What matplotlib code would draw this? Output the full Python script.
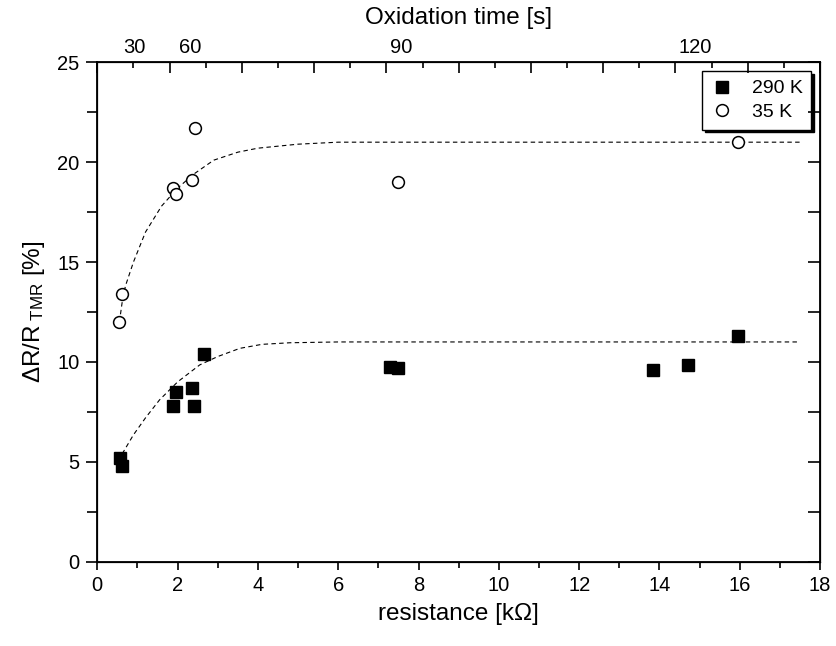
import matplotlib
matplotlib.use('Agg')
import matplotlib.pyplot as plt
from matplotlib.ticker import MultipleLocator, NullFormatter

plt.rcParams['font.family'] = ['Liberation Sans', 'DejaVu Sans']
plt.rcParams['mathtext.fontset'] = 'custom'
plt.rcParams['mathtext.rm'] = 'Liberation Sans'
plt.rcParams['mathtext.it'] = 'Liberation Sans:italic'

# 290 K data (resistance in kOhm, TMR in %)
r_290 = [0.57, 0.62, 1.89, 1.97, 2.37, 2.42, 2.65, 7.30, 7.48, 13.85, 14.70, 15.95]
tmr_290 = [5.2, 4.8, 7.8, 8.5, 8.7, 7.8, 10.4, 9.75, 9.7, 9.6, 9.85, 11.3]

# 35 K data
r_35 = [0.55, 0.62, 1.89, 1.96, 2.37, 2.43, 7.50, 15.95]
tmr_35 = [12.0, 13.4, 18.7, 18.4, 19.1, 21.7, 19.0, 21.0]

# guide-to-the-eye curves
fit35_x = [0.55, 0.62, 0.70, 0.90, 1.20, 1.60, 2.00, 2.40, 2.90, 3.50, 4.00, 5.00, 6.00, 8.00, 17.5]
fit35_y = [12.0, 13.0, 13.8, 15.0, 16.5, 17.8, 18.7, 19.4, 20.1, 20.5, 20.7, 20.9, 21.0, 21.0, 21.0]
fit290_x = [0.62, 0.90, 1.20, 1.55, 2.00, 2.55, 3.00, 3.55, 4.10, 4.80, 6.00, 17.5]
fit290_y = [5.4, 6.35, 7.2, 8.1, 9.0, 9.85, 10.27, 10.68, 10.88, 10.96, 11.0, 11.0]

# top axis labels (oxidation time) and where they sit on the resistance scale
ox_labels = ['30', '60', '90', '120']
ox_pos = [0.92, 2.31, 7.58, 14.89]

fig = plt.figure(figsize=(8.36, 6.46), dpi=100)
ax = fig.add_axes([0.1164, 0.1305, 0.8645, 0.7731])

ax.plot(fit35_x, fit35_y, color='black', ls=(0, (4, 3)), lw=0.8)
ax.plot(fit290_x, fit290_y, color='black', ls=(0, (4, 3)), lw=0.8)
ax.plot(r_290, tmr_290, 's', color='black', ms=8, label='290 K', zorder=3)
ax.plot(r_35, tmr_35, 'o', mfc='white', mec='black', mew=1.1, ms=8.5, label='35 K', zorder=3)

ax.set_xlim(0, 18)
ax.set_ylim(0, 25)
ax.xaxis.set_major_locator(MultipleLocator(2))
ax.xaxis.set_minor_locator(MultipleLocator(1))
ax.yaxis.set_major_locator(MultipleLocator(5))
ax.yaxis.set_minor_locator(MultipleLocator(2.5))

for s in ax.spines.values():
    s.set_linewidth(1.3)

ax.tick_params(axis='x', which='both', direction='out', labelsize=14.5, width=1.2, pad=4)
ax.tick_params(axis='x', which='major', length=6)
ax.tick_params(axis='x', which='minor', length=4)
ax.tick_params(axis='y', which='both', direction='out', labelsize=14.5, width=1.2, pad=5)
ax.tick_params(axis='y', which='major', length=8)
ax.tick_params(axis='y', which='minor', length=7)

ax.set_xlabel('resistance [k\u03a9]', fontsize=17.5, labelpad=6)
ax.set_ylabel('\u0394R/R$_{\\ \\mathrm{TMR}}$ [%]', fontsize=17.5, labelpad=7)

# right axis: inward ticks, no labels
ax_r = ax.twinx()
ax_r.set_ylim(ax.get_ylim())
ax_r.yaxis.set_major_locator(MultipleLocator(2.5))
ax_r.yaxis.set_major_formatter(NullFormatter())
ax_r.tick_params(axis='y', direction='in', length=9, width=1.2)

# top axis: regular ticks, custom labels
ax_top = ax.twiny()
ax_top.set_xlim(ax.get_xlim())
ax_top.xaxis.set_major_locator(MultipleLocator(1.8))
ax_top.xaxis.set_minor_locator(MultipleLocator(0.9))
ax_top.xaxis.set_major_formatter(NullFormatter())
ax_top.tick_params(axis='x', which='both', direction='in', width=1.2)
ax_top.tick_params(axis='x', which='major', length=8)
ax_top.tick_params(axis='x', which='minor', length=4)

for lbl, pos in zip(ox_labels, ox_pos):
    ax.annotate(lbl, xy=(pos, 1), xycoords=ax.get_xaxis_transform(),
                xytext=(0, 4), textcoords='offset points',
                ha='center', va='bottom', fontsize=14.5)

ax.text(0.5, 1.089, 'Oxidation time [s]', transform=ax.transAxes,
        ha='center', va='center', fontsize=17.5)

leg = ax.legend(loc='upper right', fontsize=14, frameon=True, fancybox=False,
                edgecolor='black', borderpad=0.45, handletextpad=0.9,
                labelspacing=0.3, handlelength=1.2, borderaxespad=0.45,
                shadow={'color': 'black', 'alpha': 1, 'ox': 2, 'oy': -2})
leg.get_frame().set_linewidth(1.0)
leg.set_zorder(5)

fig.savefig('out.png', dpi=100)
